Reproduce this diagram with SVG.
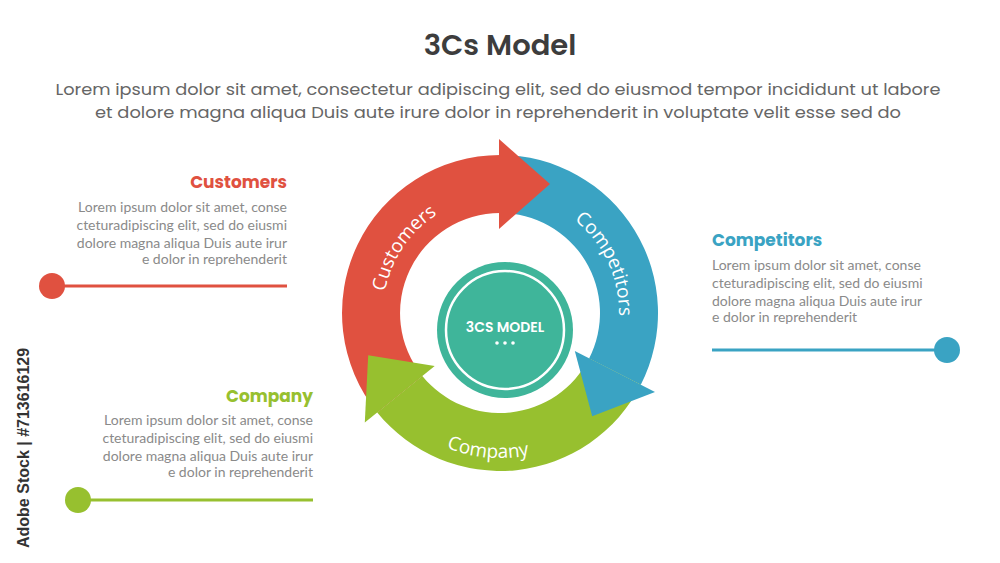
<svg xmlns="http://www.w3.org/2000/svg" width="1000" height="563" viewBox="0 0 1000 563">
<style>
.t{font-family:Poppins,"Open Sans","Liberation Sans",sans-serif}
.h{font-family:Poppins,"Open Sans","Liberation Sans",sans-serif;font-weight:700;font-size:17px}
.b{font-family:Lato,"Liberation Sans",sans-serif;font-size:14px;fill:#8a8a8a}
.al{font-family:"Open Sans","Liberation Sans",sans-serif;font-size:19px;fill:#fff;font-weight:500}
.r{text-anchor:end}
</style>
<defs>
<path id="pCu" d="M390.1,353 A117,117 0 0 1 495.9,196.1"/>
<path id="pCo" d="M520.7,195.8 A119,119 0 0 1 603.1,372.5"/>
<path id="pCy" d="M406.8,424.1 A145,145 0 0 0 572.5,438.6"/>
</defs>
<rect width="1000" height="563" fill="#fff"/>
<g id="title">
<text class="t" x="500" y="55" text-anchor="middle" font-size="29" font-weight="600" fill="#3d3d3d">3Cs Model</text>
<text class="t" x="498" y="95" text-anchor="middle" font-size="16.5" fill="#666" textLength="885" lengthAdjust="spacingAndGlyphs">Lorem ipsum dolor sit amet, consectetur adipiscing elit, sed do eiusmod tempor incididunt ut labore</text>
<text class="t" x="498" y="118" text-anchor="middle" font-size="16.5" fill="#666" textLength="806" lengthAdjust="spacingAndGlyphs">et dolore magna aliqua Duis aute irure dolor in reprehenderit in voluptate velit esse sed do</text>
</g>
<g id="cycle">
<path fill="#e05140" d="M377.2,412.4 A158,158 0 0 1 500,155 L500,213 A100,100 0 0 0 422.3,375.9 Z"/>
<path fill="#3aa3c3" d="M500,155 A158,158 0 0 1 640.8,384.7 L589.1,358.4 A100,100 0 0 0 500,213 Z"/>
<path fill="#97c02f" d="M640.8,384.7 A158,158 0 0 1 377.2,412.4 L422.3,375.9 A100,100 0 0 0 589.1,358.4 Z"/>
<path fill="#e05140" d="M499,139 L550,184 L499,229 Z"/>
<path fill="#3aa3c3" d="M655,392 L592.2,416.2 L574.8,351.1 Z"/>
<path fill="#97c02f" d="M364.8,422.5 L368.2,355.3 L434.7,365.9 Z"/>
<text class="al"><textPath href="#pCu" startOffset="50%" text-anchor="middle">Customers</textPath></text>
<text class="al"><textPath href="#pCo" startOffset="50%" text-anchor="middle">Competitors</textPath></text>
<text class="al"><textPath href="#pCy" startOffset="50%" text-anchor="middle">Company</textPath></text>
</g>
<g id="center">
<circle cx="505" cy="330" r="68" fill="#3fb59a"/>
<circle cx="505" cy="330" r="59" fill="none" stroke="#fff" stroke-width="2.5"/>
<text class="t" x="505" y="332" text-anchor="middle" font-size="14" font-weight="600" fill="#fff">3CS MODEL</text>
<circle cx="497" cy="343" r="1.8" fill="#fff"/><circle cx="505" cy="343" r="1.8" fill="#fff"/><circle cx="513" cy="343" r="1.8" fill="#fff"/>
</g>
<g id="customers">
<text class="h r" x="287" y="188" fill="#e05140">Customers</text>
<text class="b r" x="287" y="212">Lorem ipsum dolor sit amet, conse</text>
<text class="b r" x="287" y="230">cteturadipiscing elit, sed do eiusmi</text>
<text class="b r" x="287" y="248">dolore magna aliqua Duis aute irur</text>
<text class="b r" x="287" y="264">e dolor in reprehenderit</text>
<line x1="55" y1="286" x2="287" y2="286" stroke="#e05140" stroke-width="3"/>
<circle cx="52" cy="286" r="13" fill="#e05140"/>
</g>
<g id="competitors">
<text class="h" x="712" y="246" fill="#3aa3c3">Competitors</text>
<text class="b" x="712" y="270">Lorem ipsum dolor sit amet, conse</text>
<text class="b" x="712" y="288">cteturadipiscing elit, sed do eiusmi</text>
<text class="b" x="712" y="306">dolore magna aliqua Duis aute irur</text>
<text class="b" x="712" y="322">e dolor in reprehenderit</text>
<line x1="712" y1="350" x2="945" y2="350" stroke="#3aa3c3" stroke-width="3"/>
<circle cx="947" cy="350" r="13" fill="#3aa3c3"/>
</g>
<g id="company">
<text class="h r" x="313" y="402" fill="#97c02f">Company</text>
<text class="b r" x="313" y="425">Lorem ipsum dolor sit amet, conse</text>
<text class="b r" x="313" y="443">cteturadipiscing elit, sed do eiusmi</text>
<text class="b r" x="313" y="461">dolore magna aliqua Duis aute irur</text>
<text class="b r" x="313" y="477">e dolor in reprehenderit</text>
<line x1="80" y1="500" x2="313" y2="500" stroke="#97c02f" stroke-width="3"/>
<circle cx="78" cy="500" r="13" fill="#97c02f"/>
</g>
<text transform="translate(29,548) rotate(-90)" font-family="'Liberation Sans',sans-serif" font-size="16" font-weight="700" fill="#333">Adobe Stock | #713616129</text>
</svg>
